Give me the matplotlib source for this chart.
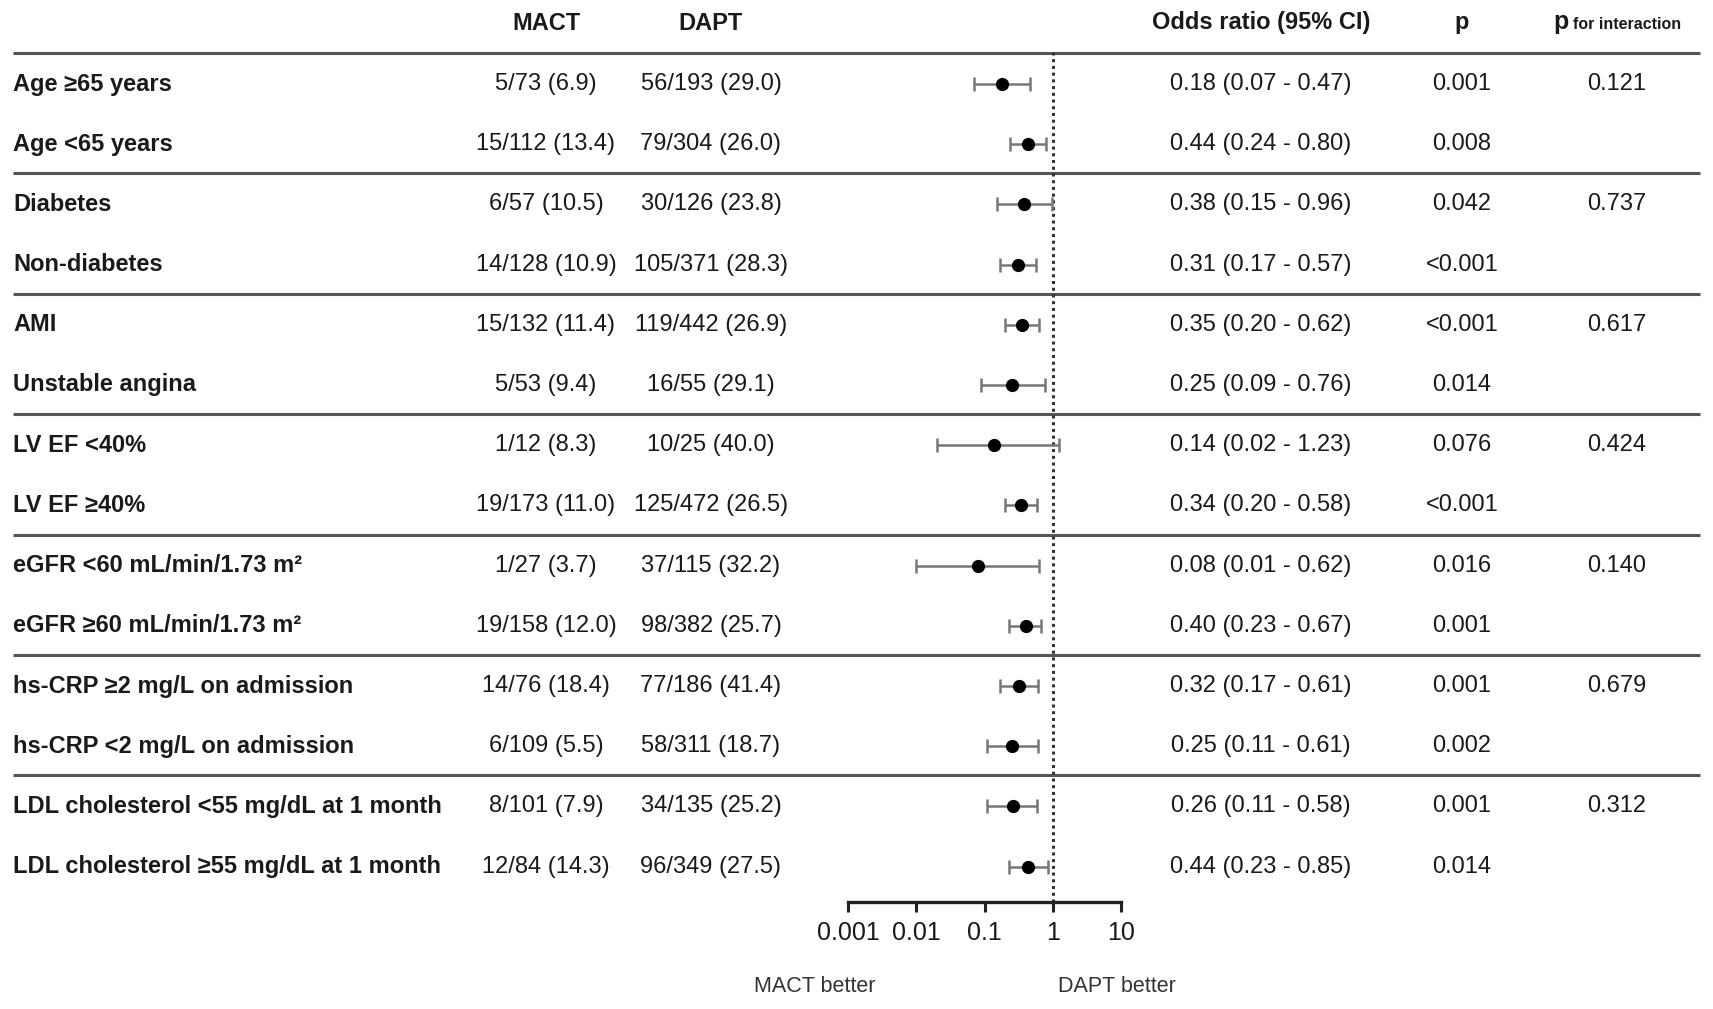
import numpy as np
import matplotlib
matplotlib.use("Agg")
import matplotlib.pyplot as plt

plt.rcParams['font.family'] = ['Liberation Sans', 'DejaVu Sans']

# subgroup data
labels = ["Age \u226565 years", "Age <65 years",
          "Diabetes", "Non-diabetes",
          "AMI", "Unstable angina",
          "LV EF <40%", "LV EF \u226540%",
          "eGFR <60 mL/min/1.73 m\u00b2", "eGFR \u226560 mL/min/1.73 m\u00b2",
          "hs-CRP \u22652 mg/L on admission", "hs-CRP <2 mg/L on admission",
          "LDL cholesterol <55 mg/dL at 1 month", "LDL cholesterol \u226555 mg/dL at 1 month"]
mact = ["5/73 (6.9)", "15/112 (13.4)", "6/57 (10.5)", "14/128 (10.9)",
        "15/132 (11.4)", "5/53 (9.4)", "1/12 (8.3)", "19/173 (11.0)",
        "1/27 (3.7)", "19/158 (12.0)", "14/76 (18.4)", "6/109 (5.5)",
        "8/101 (7.9)", "12/84 (14.3)"]
dapt = ["56/193 (29.0)", "79/304 (26.0)", "30/126 (23.8)", "105/371 (28.3)",
        "119/442 (26.9)", "16/55 (29.1)", "10/25 (40.0)", "125/472 (26.5)",
        "37/115 (32.2)", "98/382 (25.7)", "77/186 (41.4)", "58/311 (18.7)",
        "34/135 (25.2)", "96/349 (27.5)"]
odds = [0.18, 0.44, 0.38, 0.31, 0.35, 0.25, 0.14, 0.34, 0.08, 0.40, 0.32, 0.25, 0.26, 0.44]
ci_lo = [0.07, 0.24, 0.15, 0.17, 0.20, 0.09, 0.02, 0.20, 0.01, 0.23, 0.17, 0.11, 0.11, 0.23]
ci_hi = [0.47, 0.80, 0.96, 0.57, 0.62, 0.76, 1.23, 0.58, 0.62, 0.67, 0.61, 0.61, 0.58, 0.85]
pval = ["0.001", "0.008", "0.042", "<0.001", "<0.001", "0.014", "0.076", "<0.001",
        "0.016", "0.001", "0.001", "0.002", "0.001", "0.014"]
p_inter = ["0.121", "", "0.737", "", "0.617", "", "0.424", "", "0.140", "", "0.679", "", "0.312", ""]
ticks = [0.001, 0.01, 0.1, 1, 10]
tick_labels = ["0.001", "0.01", "0.1", "1", "10"]

W, H = 1713, 1009
fig = plt.figure(figsize=(W / 100, H / 100), dpi=100)

# background axes in pixel units for the table
bg = fig.add_axes([0, 0, 1, 1])
bg.set_xlim(0, W)
bg.set_ylim(H, 0)
bg.axis('off')

txt = '#1a1a1a'
fs = 17
row0, pitch = 84, 60.2
ys = row0 + pitch * np.arange(len(labels))

# header
hy = 23
bg.text(546, hy, "MACT", ha='center', va='center', fontsize=fs, fontweight='bold', color=txt)
bg.text(711, hy, "DAPT", ha='center', va='center', fontsize=fs, fontweight='bold', color=txt)
bg.text(1261, hy, "Odds ratio (95% CI)", ha='center', va='center', fontsize=fs, fontweight='bold', color=txt)
bg.text(1462, hy, "p", ha='center', va='center', fontsize=fs, fontweight='bold', color=txt)
bg.text(1553, hy + 6, "p", ha='left', va='baseline', fontsize=fs + 1, fontweight='bold', color=txt)
bg.text(1573, hy + 6, "for interaction", ha='left', va='baseline', fontsize=11.5, fontweight='bold', color=txt)

# separator lines
for k in range(7):
    yl = row0 - 1 + pitch * (2 * k - 0.5)
    bg.plot([13, 1700], [yl, yl], color='#555555', lw=2.2, solid_capstyle='butt')

for i, y in enumerate(ys):
    bg.text(13, y, labels[i], ha='left', va='center', fontsize=fs, fontweight='bold', color=txt)
    bg.text(546, y, mact[i], ha='center', va='center', fontsize=fs, color=txt)
    bg.text(711, y, dapt[i], ha='center', va='center', fontsize=fs, color=txt)
    bg.text(1261, y, "%.2f (%.2f - %.2f)" % (odds[i], ci_lo[i], ci_hi[i]),
            ha='center', va='center', fontsize=fs, color=txt)
    bg.text(1462, y, pval[i], ha='center', va='center', fontsize=fs, color=txt)
    if p_inter[i]:
        bg.text(1617, y, p_inter[i], ha='center', va='center', fontsize=fs, color=txt)

# forest plot axes
x0, x1 = 848, 1121
ytop, ybot = 52, 902
ax = fig.add_axes([x0 / W, (H - ybot) / H, (x1 - x0) / W, (ybot - ytop) / H])
ax.set_xscale('log')
ax.set_xlim(0.001, 10)
ax.set_ylim(ybot, ytop)
ax.patch.set_alpha(0)
for s in ['top', 'right', 'left']:
    ax.spines[s].set_visible(False)
ax.spines['bottom'].set_linewidth(2.4)
ax.spines['bottom'].set_color('#222222')
ax.set_yticks([])
ax.set_xticks(ticks)
ax.set_xticklabels(tick_labels, fontsize=18, color=txt)
ax.minorticks_off()
ax.tick_params(axis='x', direction='out', length=7, width=2.2, color='#222222', pad=7)

ax.axvline(1, color='#333333', lw=2.2, ls=(0, (1, 1.2)), zorder=1)

odds_a = np.array(odds)
xerr = np.vstack([odds_a - np.array(ci_lo), np.array(ci_hi) - odds_a])
ax.errorbar(odds_a, ys, xerr=xerr, fmt='o', color='black', ms=8.5,
            ecolor='#777777', elinewidth=1.8, capsize=5, capthick=1.8, zorder=3,
            clip_on=False)

bg.text(815, 987, "MACT better", ha='center', va='center', fontsize=15.5, color='#333333')
bg.text(1117, 987, "DAPT better", ha='center', va='center', fontsize=15.5, color='#333333')

fig.savefig("out.png", dpi=100)
